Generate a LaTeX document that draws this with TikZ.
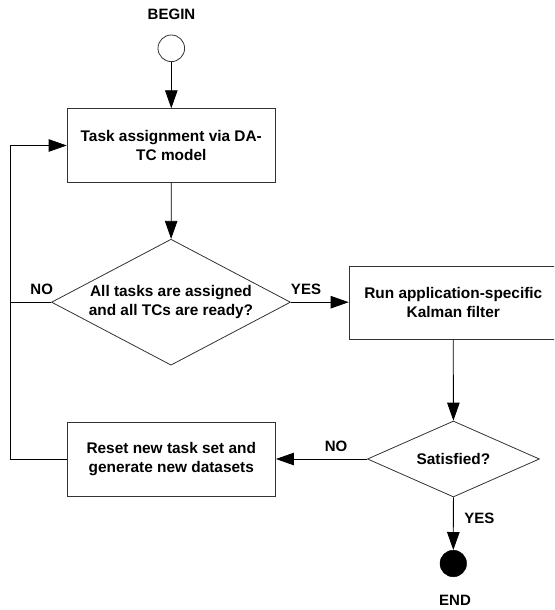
\documentclass[tikz,border=0pt]{standalone}
\usepackage{fontspec}
\setmainfont{Liberation Sans}
\usetikzlibrary{shapes.geometric,arrows.meta}
\begin{document}
\begin{tikzpicture}[x=1pt,y=-1pt,
  boxtext/.style={font=\bfseries\fontsize{15.4}{19}\selectfont},
  lbl/.style={font=\bfseries\fontsize{15}{18}\selectfont, inner sep=0pt},
  procbox/.style={draw=black!80, line width=0.8pt, fill=white, boxtext, align=center,
    minimum width=208.5pt, minimum height=73.6pt, inner sep=0pt},
  decision/.style={draw=black!80, line width=0.8pt, fill=white, boxtext, align=center,
    shape=diamond, inner sep=0pt},
  flow/.style={draw=black, line width=0.8pt, -{Triangle[length=18pt,width=12.5pt]}},
  plain/.style={draw=black, line width=0.8pt}]
\useasboundingbox (0,0) rectangle (554,610);
\clip (0,0) rectangle (554,610);

\node[lbl] (beginlbl) at (171.5,14) {BEGIN};
\node[draw=black!80, line width=0.8pt, circle, minimum size=26.6pt, inner sep=0pt] (start) at (171.3,48.3) {};
\node[procbox] (assign) at (171.3,145.5) {Task assignment via DA-\\TC model};
\node[decision, minimum width=239pt, minimum height=126pt, aspect=1.9] (ready) at (171,302.2) {All tasks are assigned\\and all TCs are ready?};
\node[procbox, minimum height=73.3pt] (kalman) at (453.3,302.6) {Run application-specific\\Kalman filter};
\node[decision, minimum width=172pt, minimum height=76pt, aspect=2.26] (sat) at (453.4,459) {Satisfied?};
\node[procbox, minimum height=73.7pt] (reset) at (171.3,459.2) {Reset new task set and\\generate new datasets};
\node[draw=black, fill=black, circle, minimum size=26.6pt, inner sep=0pt] (stop) at (453.3,563.5) {};
\node[lbl] (endlbl) at (455,600) {END};

\node[lbl] (no1) at (41.7,289) {NO};
\node[lbl] (yes1) at (306,289) {YES};
\node[lbl] (no2) at (336,446.5) {NO};
\node[lbl] (yes2) at (479.3,518.3) {YES};

\coordinate (loopbot) at (9.9,459.2);
\coordinate (looptop) at (9.9,145.5);
\coordinate (loopmid) at (9.9,302.2);

\draw[flow] (start) -- (assign);
\draw[flow] (assign) -- (ready);
\draw[flow] (ready.east) -- (kalman.west |- ready.east);
\draw[flow] (kalman.south) -- (sat.north);
\draw[flow] (sat.west) -- (reset.east |- sat.west);
\draw[flow] (sat.south) -- (stop.north);
\draw[flow] (reset.west) -- (loopbot) -- (looptop) -- (assign.west);
\draw[plain] (ready.west) -- (loopmid);
\end{tikzpicture}
\end{document}
